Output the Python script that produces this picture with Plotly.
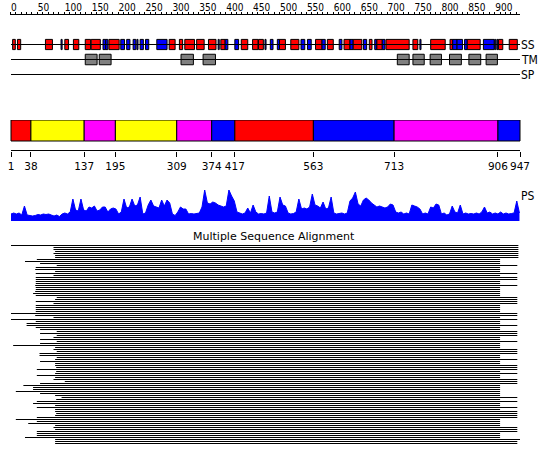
import plotly.graph_objects as go

# ---------------- data ----------------
SEQ_LEN = 947
ruler_major = list(range(0, 901, 50))
ruler_minor = list(range(0, 941, 10))

# secondary structure elements (H = helix/red, E = strand/blue)
ss_start = [4, 13, 65, 94, 101, 117, 139, 150, 172, 177, 183, 205, 216, 228, 235, 241, 251, 272,
            295, 314, 324, 346, 368, 386, 391, 399, 417, 429, 450, 461, 473, 483, 496, 500, 521,
            540, 552, 567, 579, 589, 611, 620, 631, 637, 656, 667, 677, 681, 691, 698, 748, 761,
            781, 817, 822, 830, 844, 849, 879, 900, 904, 907, 927]
ss_end = [9, 19, 78, 96, 108, 127, 149, 167, 177, 181, 202, 212, 222, 233, 237, 247, 257, 291,
          306, 320, 342, 360, 382, 388, 399, 404, 424, 441, 460, 470, 475, 488, 500, 511, 536,
          547, 559, 579, 585, 600, 616, 631, 637, 653, 662, 672, 681, 691, 696, 741, 757, 763,
          808, 822, 830, 840, 849, 873, 899, 902, 906, 915, 942]
ss_type = ["H", "H", "H", "E", "H", "H", "H", "H", "E", "E", "H", "E", "E", "E", "E", "E", "E", "E",
           "H", "H", "H", "H", "H", "E", "H", "E", "E", "H", "H", "H", "E", "E", "E", "H", "H",
           "E", "E", "H", "E", "H", "E", "H", "E", "H", "E", "H", "E", "H", "E", "H", "H", "E",
           "H", "H", "E", "E", "E", "H", "E", "E", "E", "H", "H"]

# transmembrane segments
tm_start = [139, 165, 317, 358, 719, 748, 780, 816, 852, 884]
tm_end = [161, 187, 340, 381, 741, 769, 801, 838, 874, 905]

track_names = ["SS", "TM", "SP"]

# domains
dom_start = [1, 38, 137, 195, 309, 374, 417, 563, 713, 906]
dom_end = [38, 137, 195, 309, 374, 417, 563, 713, 906, 947]
dom_color = ["#ff0000", "#ffff00", "#ff00ff", "#ffff00", "#ff00ff",
             "#0000ff", "#ff0000", "#0000ff", "#ff00ff", "#0000ff"]
dom_ticks = [1, 38, 137, 195, 309, 374, 417, 563, 713, 906, 947]

# PS profile (sampled every 5 residues)
ps_pos = list(range(1, 947, 5))
ps_val = [7, 8, 7, 8, 6, 15, 6, 5.5, 5, 5.5,
          6.5, 6, 7, 6.5, 7, 6, 5, 6, 4.5, 7,
          8, 7, 9, 22, 11, 10, 22, 11, 10, 14,
          13, 15, 10, 11, 14, 14, 9, 12, 13, 12,
          7, 9, 22, 13, 14, 22, 15, 16, 24, 7,
          8, 16, 21, 15, 14, 13, 21, 15, 21, 18,
          7, 5.5, 9, 14, 12, 12, 7, 7.5, 7, 7.5,
          8, 14, 31, 18, 17, 19, 18, 16, 15, 14,
          15, 31, 25, 20, 9, 8, 7, 8, 13, 8,
          16, 9, 7, 7.5, 7, 8, 25, 9, 8, 9,
          24, 16, 15, 8, 7, 7.5, 9, 22, 12, 13,
          12, 14, 27, 16, 15, 13, 19, 12, 13, 24,
          8, 7, 7.5, 8, 7, 8, 20, 23, 29, 17,
          15, 21, 23, 21, 18, 16, 14, 15, 14, 13,
          14, 17, 16, 9, 8, 9, 7, 8, 7, 16,
          15, 14, 12, 7, 8, 7, 14, 13, 17, 16,
          7, 8, 6, 7, 15, 9, 8, 16, 7, 8,
          7, 7.5, 7, 8, 7, 9, 14, 8, 9, 7,
          8, 7, 9, 7, 8, 7, 7.5, 8, 20, 8]

# multiple sequence alignment: start / end residue of each aligned sequence
msa_start = [1, 80, 80, 83, 80, 83, 83, 49, 27, 55,
             86, 47, 46, 83, 47, 80, 47, 47, 47, 47,
             46, 47, 47, 46, 42, 47, 86, 83, 47, 80,
             47, 47, 47, 47, 1, 46, 80, 1, 47, 30,
             30, 47, 55, 86, 55, 86, 80, 55, 86, 55,
             5, 83, 80, 86, 54, 54, 86, 83, 55, 83,
             83, 85, 49, 85, 83, 49, 83, 80, 101, 55,
             24, 42, 42, 10, 55, 83, 95, 85, 49, 42,
             83, 49, 83, 83, 85, 83, 49, 10, 49, 33,
             83, 80, 83, 49, 49, 49, 27, 83, 83, 83]
msa_end = [944, 944, 944, 944, 944, 944, 944, 910, 910, 910,
           942, 910, 910, 910, 942, 910, 942, 942, 910, 910,
           942, 910, 910, 910, 910, 910, 942, 942, 942, 942,
           910, 910, 910, 910, 942, 942, 910, 942, 910, 910,
           942, 910, 910, 942, 942, 942, 910, 910, 942, 910,
           910, 910, 942, 942, 942, 910, 910, 942, 910, 910,
           942, 942, 942, 910, 942, 910, 910, 942, 942, 942,
           910, 910, 910, 910, 910, 910, 942, 910, 942, 910,
           910, 942, 910, 942, 942, 942, 942, 910, 910, 910,
           910, 942, 942, 942, 910, 910, 910, 947, 942, 942]

# ---------------- layout helpers ----------------
W, H = 550, 465
PX_PER_RES = 509 / 946
X0 = 1 - 11 / PX_PER_RES
X1 = X0 + W / PX_PER_RES


def dom(top_px, bottom_px):
    return [1 - bottom_px / H, 1 - top_px / H]


FONT = "DejaVu Sans"
COND = "DejaVu Sans Condensed, DejaVu Sans"
TRACK0 = 2  # track rows: ruler at 0, tracks from 2 on (15 px per unit)

fig = go.Figure()

# ruler baseline and track lines
lx, ly = [0, SEQ_LEN, None], [0, 0, None]
for i, _ in enumerate(track_names):
    lx += [1, SEQ_LEN, None]
    ly += [i + TRACK0, i + TRACK0, None]
fig.add_trace(go.Scatter(x=lx, y=ly, mode="lines", line=dict(color="black", width=1),
                         xaxis="x", yaxis="y", hoverinfo="skip"))

# SS boxes
ss_col = ["#ff0000" if t == "H" else "#0000ff" for t in ss_type]
fig.add_trace(go.Bar(orientation="h", base=ss_start,
                     x=[e - s for s, e in zip(ss_start, ss_end)],
                     y=[TRACK0] * len(ss_start), width=0.68,
                     marker=dict(color=ss_col, line=dict(color="black", width=1)),
                     xaxis="x", yaxis="y"))
# TM boxes
fig.add_trace(go.Bar(orientation="h", base=tm_start,
                     x=[e - s for s, e in zip(tm_start, tm_end)],
                     y=[TRACK0 + 1] * len(tm_start), width=0.7,
                     marker=dict(color="#808080", line=dict(color="black", width=1)),
                     xaxis="x", yaxis="y"))

# domain bar
fig.add_trace(go.Bar(orientation="h", base=dom_start,
                     x=[e - s for s, e in zip(dom_start, dom_end)],
                     y=[10.5] * len(dom_start), width=21,
                     marker=dict(color=dom_color, line=dict(color="black", width=1)),
                     xaxis="x2", yaxis="y2"))
fig.add_trace(go.Scatter(x=[1, SEQ_LEN], y=[-9.5, -9.5], mode="lines",
                         line=dict(color="black", width=1), xaxis="x2", yaxis="y2"))

# PS profile
fig.add_trace(go.Scatter(x=ps_pos, y=ps_val, mode="lines", fill="tozeroy",
                         line=dict(color="#0000ff", width=1), fillcolor="#0000ff",
                         xaxis="x", yaxis="y3"))

# MSA lines
mx, my = [], []
for i, (s, e) in enumerate(zip(msa_start, msa_end)):
    mx += [s, e, None]
    my += [i, i, None]
fig.add_trace(go.Scatter(x=mx, y=my, mode="lines", line=dict(color="black", width=1),
                         xaxis="x", yaxis="y4"))

annotations = []
for i, name in enumerate(track_names):
    annotations.append(dict(x=SEQ_LEN, y=i + TRACK0, xref="x", yref="y", text=name,
                            showarrow=False, xanchor="left", yanchor="middle", xshift=-1,
                            font=dict(family=COND, size=12, color="black")))
annotations.append(dict(x=SEQ_LEN, y=25, xref="x", yref="y3", text="PS",
                        showarrow=False, xanchor="left", yanchor="middle", xshift=-1,
                        font=dict(family=COND, size=12, color="black")))
annotations.append(dict(x=273.5 / W, y=1 - 236 / H, xref="paper", yref="paper",
                        text="Multiple Sequence Alignment", showarrow=False,
                        xanchor="center", yanchor="middle",
                        font=dict(family=FONT, size=11, color="black")))

hidden_y = dict(showticklabels=False, showgrid=False, zeroline=False, showline=False,
                ticks="", fixedrange=True)

fig.update_layout(
    width=W, height=H, margin=dict(l=0, r=0, t=0, b=0),
    paper_bgcolor="white", plot_bgcolor="white", showlegend=False,
    barmode="overlay", font=dict(family=FONT, color="black"),
    xaxis=dict(range=[X0, X1], anchor="free", position=1 - 14.5 / H, side="top",
               showgrid=False, zeroline=False, showline=False,
               tickmode="array", tickvals=ruler_major, ticktext=[str(v) for v in ruler_major],
               ticks="outside", ticklen=3, tickwidth=1, tickcolor="black",
               ticklabelposition="outside right", tickangle=0,
               tickfont=dict(family=COND, size=10, color="black"),
               minor=dict(tickmode="array", tickvals=ruler_minor, ticks="outside",
                          ticklen=3, tickwidth=1, tickcolor="black", showgrid=False)),
    xaxis2=dict(range=[X0, X1], matches="x", anchor="y2", side="bottom",
                showgrid=False, zeroline=False, showline=False,
                tickmode="array", tickvals=dom_ticks, ticktext=[str(v) for v in dom_ticks],
                ticks="outside", ticklen=5, tickwidth=1, tickcolor="black", tickangle=0,
                tickfont=dict(family=FONT, size=10.5, color="black")),
    yaxis=dict(domain=dom(0, 90), range=[(90 - 14.5) / 15, -14.5 / 15], **hidden_y),
    yaxis2=dict(domain=dom(120, 151), range=[-10, 21], anchor="x2", **hidden_y),
    yaxis3=dict(domain=dom(188, 221), range=[0, 33], **hidden_y),
    yaxis4=dict(domain=dom(243, 447), range=[100.75, -1.25], **hidden_y),
    annotations=annotations,
)

fig.write_html("out.html", config={"displayModeBar": False},
               post_script="document.body.style.margin='0';")
